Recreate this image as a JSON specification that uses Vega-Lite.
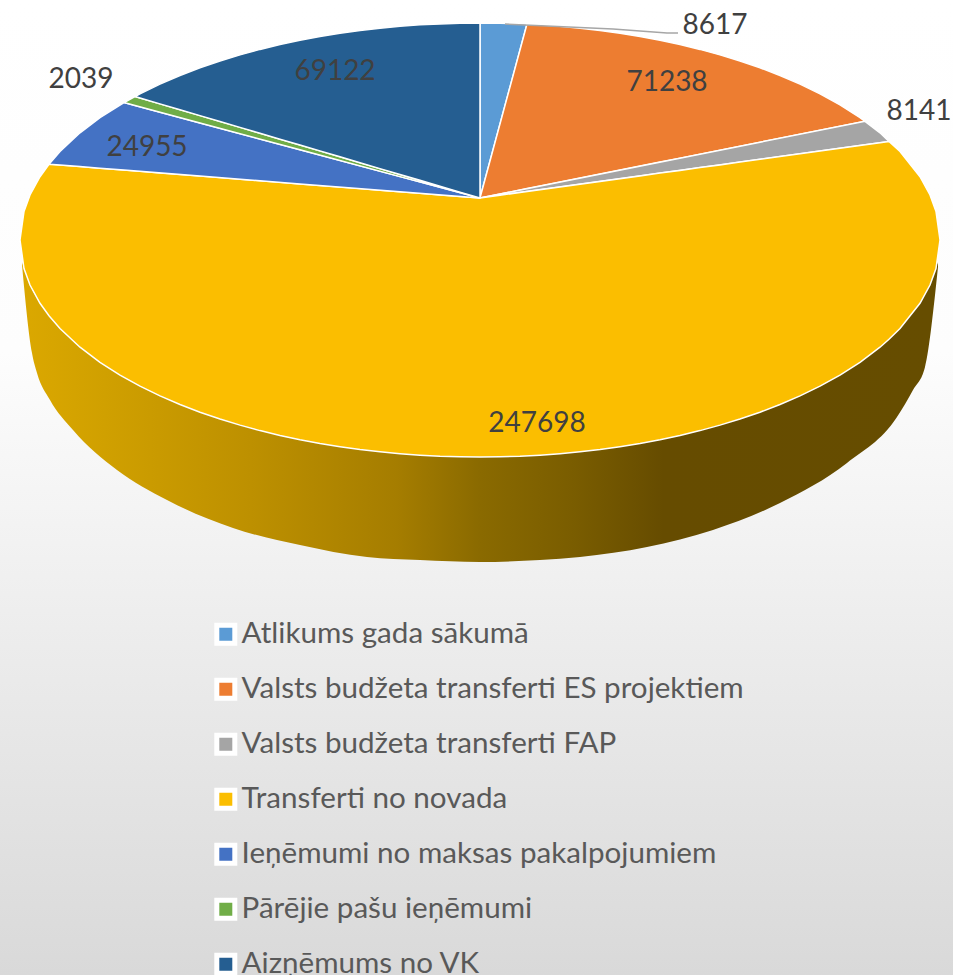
{
"$schema":"https://vega.github.io/schema/vega-lite/v6.json",
"width":953,"height":975,"padding":0,"autosize":{"type":"none"},
"background":"white",
"view":{"stroke":null,"fill":{"gradient":"linear","x1":0,"y1":0,"x2":0,"y2":1,"stops":[{"offset":0,"color":"#ffffff"},{"offset":0.36,"color":"#fdfdfd"},{"offset":1,"color":"#d9d9d9"}]}},
"datasets":{
"side":[
{"x":22,"y":262,"y2":265},{"x":32,"y":289,"y2":353},{"x":37,"y":298,"y2":373},{"x":50,"y":314,"y2":400},{"x":73,"y":338,"y2":430},{"x":117,"y":370,"y2":470},{"x":167,"y":396,"y2":500},{"x":233,"y":420,"y2":528},{"x":300,"y":437,"y2":545},{"x":367,"y":447,"y2":557},{"x":420,"y":452,"y2":560},{"x":480,"y":454,"y2":562},{"x":540,"y":452,"y2":560},{"x":580,"y":449,"y2":557},{"x":647,"y":439,"y2":547},{"x":713,"y":424,"y2":530},{"x":780,"y":401,"y2":503},{"x":847,"y":368,"y2":463},{"x":897,"y":329,"y2":417},{"x":913,"y":310,"y2":390},{"x":925,"y":292,"y2":367},{"x":938,"y":262,"y2":267}],
"wedges":[
{"n":"Atlikums gada sākumā","x":480,"y":23,"y2":198},{"n":"Atlikums gada sākumā","x":500,"y":23.2,"y2":124},{"n":"Atlikums gada sākumā","x":527,"y":24,"y2":24},
{"n":"Valsts budžeta transferti ES projektiem","x":480,"y":198,"y2":198},{"n":"Valsts budžeta transferti ES projektiem","x":527,"y":24,"y2":188.6},{"n":"Valsts budžeta transferti ES projektiem","x":540,"y":24.8,"y2":186},{"n":"Valsts budžeta transferti ES projektiem","x":560,"y":26.3,"y2":182.1},{"n":"Valsts budžeta transferti ES projektiem","x":580,"y":28.2,"y2":178.1},{"n":"Valsts budžeta transferti ES projektiem","x":600,"y":30.5,"y2":174.1},{"n":"Valsts budžeta transferti ES projektiem","x":620,"y":33.3,"y2":170.1},{"n":"Valsts budžeta transferti ES projektiem","x":640,"y":36.5,"y2":166.1},{"n":"Valsts budžeta transferti ES projektiem","x":660,"y":40.3,"y2":162.1},{"n":"Valsts budžeta transferti ES projektiem","x":680,"y":44.6,"y2":158.2},{"n":"Valsts budžeta transferti ES projektiem","x":700,"y":49.4,"y2":154.2},{"n":"Valsts budžeta transferti ES projektiem","x":720,"y":54.9,"y2":150.2},{"n":"Valsts budžeta transferti ES projektiem","x":740,"y":61,"y2":146.2},{"n":"Valsts budžeta transferti ES projektiem","x":760,"y":67.8,"y2":142.2},{"n":"Valsts budžeta transferti ES projektiem","x":780,"y":75.5,"y2":138.2},{"n":"Valsts budžeta transferti ES projektiem","x":800,"y":84.1,"y2":134.3},{"n":"Valsts budžeta transferti ES projektiem","x":820,"y":93.8,"y2":130.3},{"n":"Valsts budžeta transferti ES projektiem","x":840,"y":104.9,"y2":126.3},{"n":"Valsts budžeta transferti ES projektiem","x":860,"y":117.7,"y2":122.3},{"n":"Valsts budžeta transferti ES projektiem","x":865,"y":121.3,"y2":121.3},
{"n":"Valsts budžeta transferti FAP","x":480,"y":198,"y2":198},{"n":"Valsts budžeta transferti FAP","x":865,"y":121.3,"y2":144.8},{"n":"Valsts budžeta transferti FAP","x":880,"y":132.8,"y2":142.8},{"n":"Valsts budžeta transferti FAP","x":889,"y":141.5,"y2":141.5},
{"n":"Transferti no novada","x":20,"y":240,"y2":240},{"n":"Transferti no novada","x":24,"y":211.4,"y2":268.6},{"n":"Transferti no novada","x":30,"y":195,"y2":285},{"n":"Transferti no novada","x":40,"y":176.7,"y2":303.3},{"n":"Transferti no novada","x":49,"y":164.2,"y2":315.8},{"n":"Transferti no novada","x":60,"y":165.1,"y2":328.5},{"n":"Transferti no novada","x":80,"y":166.6,"y2":347.2},{"n":"Transferti no novada","x":100,"y":168.2,"y2":362.3},{"n":"Transferti no novada","x":120,"y":169.8,"y2":375.1},{"n":"Transferti no novada","x":140,"y":171.3,"y2":386.2},{"n":"Transferti no novada","x":160,"y":172.9,"y2":395.9},{"n":"Transferti no novada","x":180,"y":174.5,"y2":404.5},{"n":"Transferti no novada","x":200,"y":176,"y2":412.2},{"n":"Transferti no novada","x":220,"y":177.6,"y2":419},{"n":"Transferti no novada","x":240,"y":179.2,"y2":425.1},{"n":"Transferti no novada","x":260,"y":180.7,"y2":430.6},{"n":"Transferti no novada","x":280,"y":182.3,"y2":435.4},{"n":"Transferti no novada","x":300,"y":183.9,"y2":439.7},{"n":"Transferti no novada","x":320,"y":185.4,"y2":443.5},{"n":"Transferti no novada","x":340,"y":187,"y2":446.7},{"n":"Transferti no novada","x":360,"y":188.6,"y2":449.5},{"n":"Transferti no novada","x":380,"y":190.2,"y2":451.8},{"n":"Transferti no novada","x":400,"y":191.7,"y2":453.7},{"n":"Transferti no novada","x":420,"y":193.3,"y2":455.2},{"n":"Transferti no novada","x":440,"y":194.9,"y2":456.3},{"n":"Transferti no novada","x":460,"y":196.4,"y2":456.8},{"n":"Transferti no novada","x":480,"y":198,"y2":457},{"n":"Transferti no novada","x":500,"y":195.2,"y2":456.8},{"n":"Transferti no novada","x":520,"y":192.5,"y2":456.3},{"n":"Transferti no novada","x":540,"y":189.7,"y2":455.2},{"n":"Transferti no novada","x":560,"y":187,"y2":453.7},{"n":"Transferti no novada","x":580,"y":184.2,"y2":451.8},{"n":"Transferti no novada","x":600,"y":181.4,"y2":449.5},{"n":"Transferti no novada","x":620,"y":178.7,"y2":446.7},{"n":"Transferti no novada","x":640,"y":175.9,"y2":443.5},{"n":"Transferti no novada","x":660,"y":173.1,"y2":439.7},{"n":"Transferti no novada","x":680,"y":170.4,"y2":435.4},{"n":"Transferti no novada","x":700,"y":167.6,"y2":430.6},{"n":"Transferti no novada","x":720,"y":164.9,"y2":425.1},{"n":"Transferti no novada","x":740,"y":162.1,"y2":419},{"n":"Transferti no novada","x":760,"y":159.3,"y2":412.2},{"n":"Transferti no novada","x":780,"y":156.6,"y2":404.5},{"n":"Transferti no novada","x":800,"y":153.8,"y2":395.9},{"n":"Transferti no novada","x":820,"y":151,"y2":386.2},{"n":"Transferti no novada","x":840,"y":148.3,"y2":375.1},{"n":"Transferti no novada","x":860,"y":145.5,"y2":362.3},{"n":"Transferti no novada","x":880,"y":142.8,"y2":347.2},{"n":"Transferti no novada","x":889,"y":141.5,"y2":339.3},{"n":"Transferti no novada","x":900,"y":151.5,"y2":328.5},{"n":"Transferti no novada","x":920,"y":176.7,"y2":303.3},{"n":"Transferti no novada","x":930,"y":195,"y2":285},{"n":"Transferti no novada","x":936,"y":211.4,"y2":268.6},{"n":"Transferti no novada","x":940,"y":240,"y2":240},
{"n":"Ieņēmumi no maksas pakalpojumiem","x":49,"y":164.2,"y2":164.2},{"n":"Ieņēmumi no maksas pakalpojumiem","x":60,"y":151.5,"y2":165.1},{"n":"Ieņēmumi no maksas pakalpojumiem","x":80,"y":132.8,"y2":166.6},{"n":"Ieņēmumi no maksas pakalpojumiem","x":100,"y":117.7,"y2":168.2},{"n":"Ieņēmumi no maksas pakalpojumiem","x":124,"y":102.6,"y2":170.1},{"n":"Ieņēmumi no maksas pakalpojumiem","x":200,"y":123,"y2":176},{"n":"Ieņēmumi no maksas pakalpojumiem","x":300,"y":149.8,"y2":183.9},{"n":"Ieņēmumi no maksas pakalpojumiem","x":400,"y":176.6,"y2":191.7},{"n":"Ieņēmumi no maksas pakalpojumiem","x":480,"y":198,"y2":198},
{"n":"Pārējie pašu ieņēmumi","x":124,"y":102.6,"y2":102.6},{"n":"Pārējie pašu ieņēmumi","x":135,"y":96.5,"y2":105.5},{"n":"Pārējie pašu ieņēmumi","x":200,"y":115.6,"y2":123},{"n":"Pārējie pašu ieņēmumi","x":300,"y":145,"y2":149.8},{"n":"Pārējie pašu ieņēmumi","x":400,"y":174.5,"y2":176.6},{"n":"Pārējie pašu ieņēmumi","x":480,"y":198,"y2":198},
{"n":"Aizņēmums no VK","x":135,"y":96.5,"y2":96.5},{"n":"Aizņēmums no VK","x":140,"y":93.8,"y2":98},{"n":"Aizņēmums no VK","x":160,"y":84.1,"y2":103.9},{"n":"Aizņēmums no VK","x":180,"y":75.5,"y2":109.7},{"n":"Aizņēmums no VK","x":200,"y":67.8,"y2":115.6},{"n":"Aizņēmums no VK","x":220,"y":61,"y2":121.5},{"n":"Aizņēmums no VK","x":240,"y":54.9,"y2":127.4},{"n":"Aizņēmums no VK","x":260,"y":49.4,"y2":133.3},{"n":"Aizņēmums no VK","x":280,"y":44.6,"y2":139.2},{"n":"Aizņēmums no VK","x":300,"y":40.3,"y2":145},{"n":"Aizņēmums no VK","x":320,"y":36.5,"y2":150.9},{"n":"Aizņēmums no VK","x":340,"y":33.3,"y2":156.8},{"n":"Aizņēmums no VK","x":360,"y":30.5,"y2":162.7},{"n":"Aizņēmums no VK","x":380,"y":28.2,"y2":168.6},{"n":"Aizņēmums no VK","x":400,"y":26.3,"y2":174.5},{"n":"Aizņēmums no VK","x":420,"y":24.8,"y2":180.3},{"n":"Aizņēmums no VK","x":440,"y":24,"y2":186.2},{"n":"Aizņēmums no VK","x":460,"y":23.2,"y2":192.1},{"n":"Aizņēmums no VK","x":480,"y":23,"y2":198}
],
"leader":[{"x":505,"y":24},{"x":613,"y":29},{"x":667,"y":33},{"x":678,"y":33}],
"slices":[
{"n":"Atlikums gada sākumā","value":8617,"x":715,"y":24},
{"n":"Valsts budžeta transferti ES projektiem","value":71238,"x":667,"y":81},
{"n":"Valsts budžeta transferti FAP","value":8141,"x":919,"y":110},
{"n":"Transferti no novada","value":247698,"x":537,"y":422},
{"n":"Ieņēmumi no maksas pakalpojumiem","value":24955,"x":147,"y":146},
{"n":"Pārējie pašu ieņēmumi","value":2039,"x":81,"y":78},
{"n":"Aizņēmums no VK","value":69122,"x":335,"y":70}
]
},
"layer":[
{"data":{"name":"side"},
 "mark":{"type":"area","orient":"vertical","interpolate":"monotone","fill":{"gradient":"linear","x1":0,"y1":0,"x2":1,"y2":0,"stops":[{"offset":0,"color":"#dba800"},{"offset":0.09,"color":"#d0a000"},{"offset":0.25,"color":"#bd9000"},{"offset":0.41,"color":"#a57d00"},{"offset":0.5,"color":"#8a6a00"},{"offset":0.6,"color":"#7a5d00"},{"offset":0.7,"color":"#664c00"},{"offset":1,"color":"#664d00"}]}},
 "encoding":{
  "x":{"field":"x","type":"quantitative","axis":null,"scale":{"domain":[0,953],"nice":false,"zero":false}},
  "y":{"field":"y","type":"quantitative","axis":null,"stack":null,"scale":{"domain":[975,0],"nice":false,"zero":false}},
  "y2":{"field":"y2"}}},
{"data":{"name":"wedges"},
 "mark":{"type":"area","orient":"vertical","stroke":"white","strokeWidth":1.5,"opacity":1},
 "encoding":{
  "x":{"field":"x","type":"quantitative","axis":null,"scale":{"domain":[0,953],"nice":false,"zero":false}},
  "y":{"field":"y","type":"quantitative","axis":null,"stack":null,"scale":{"domain":[975,0],"nice":false,"zero":false}},
  "y2":{"field":"y2"},
  "color":{"field":"n","type":"nominal",
   "scale":{"domain":["Atlikums gada sākumā","Valsts budžeta transferti ES projektiem","Valsts budžeta transferti FAP","Transferti no novada","Ieņēmumi no maksas pakalpojumiem","Pārējie pašu ieņēmumi","Aizņēmums no VK"],"range":["#5b9bd5","#ed7d31","#a5a5a5","#fbbe00","#4472c4","#70ad47","#255e91"]},
   "legend":{"title":null,"orient":"none","legendX":211,"legendY":607,"symbolType":"square","symbolSize":324,"symbolStrokeWidth":5,"symbolStrokeColor":"white","symbolOpacity":1,"labelFont":"Lato","labelFontSize":29.6,"labelColor":"#595959","labelLimit":800,"labelOffset":1,"clipHeight":54.5,"rowPadding":0,"padding":0}}}},
{"data":{"name":"leader"},
 "mark":{"type":"line","color":"#a6a6a6","strokeWidth":1.5},
 "encoding":{
  "x":{"field":"x","type":"quantitative","axis":null,"scale":{"domain":[0,953],"nice":false,"zero":false}},
  "y":{"field":"y","type":"quantitative","axis":null,"scale":{"domain":[975,0],"nice":false,"zero":false}}}},
{"data":{"name":"slices"},
 "mark":{"type":"text","font":"Lato","fontSize":28,"color":"#404040","align":"center","baseline":"middle","dy":1.5},
 "encoding":{
  "x":{"field":"x","type":"quantitative","axis":null,"scale":{"domain":[0,953],"nice":false,"zero":false}},
  "y":{"field":"y","type":"quantitative","axis":null,"scale":{"domain":[975,0],"nice":false,"zero":false}},
  "text":{"field":"value","type":"quantitative","format":"d"}}}
]
}
